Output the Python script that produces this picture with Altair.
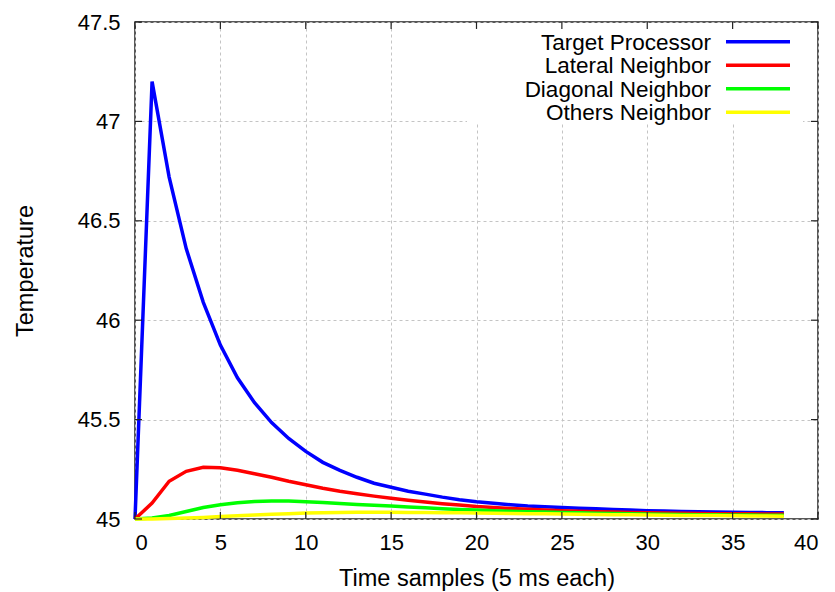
import altair as alt
import pandas as pd

# ---- data ----
t = list(range(39))
target = [45.0, 47.2, 46.72, 46.36, 46.09, 45.875, 45.71, 45.585, 45.485, 45.405,
          45.34, 45.285, 45.245, 45.21, 45.18, 45.16, 45.14, 45.125, 45.11, 45.097,
          45.087, 45.079, 45.072, 45.066, 45.062, 45.058, 45.054, 45.051, 45.048, 45.045,
          45.042, 45.04, 45.038, 45.037, 45.035, 45.034, 45.033, 45.032, 45.031]
lateral = [45.0, 45.08, 45.19, 45.24, 45.26, 45.258, 45.245, 45.228, 45.21, 45.19,
           45.172, 45.155, 45.14, 45.127, 45.115, 45.104, 45.094, 45.085, 45.077, 45.07,
           45.063, 45.058, 45.053, 45.049, 45.045, 45.042, 45.039, 45.037, 45.035, 45.033,
           45.031, 45.03, 45.029, 45.028, 45.027, 45.026, 45.026, 45.025, 45.025]
diagonal = [45.0, 45.005, 45.018, 45.038, 45.058, 45.072, 45.082, 45.088, 45.09, 45.09,
            45.087, 45.083, 45.078, 45.073, 45.069, 45.065, 45.06, 45.056, 45.052, 45.048,
            45.045, 45.042, 45.039, 45.037, 45.035, 45.033, 45.031, 45.029, 45.028, 45.027,
            45.025, 45.024, 45.023, 45.022, 45.021, 45.02, 45.02, 45.019, 45.019]
others = [45.0, 45.0, 45.002, 45.005, 45.008, 45.012, 45.016, 45.02, 45.024, 45.027,
          45.03, 45.032, 45.033, 45.034, 45.034, 45.034, 45.033, 45.033, 45.032, 45.031,
          45.03, 45.029, 45.028, 45.027, 45.026, 45.025, 45.024, 45.023, 45.022, 45.021,
          45.02, 45.019, 45.018, 45.018, 45.017, 45.016, 45.015, 45.015, 45.014]

series_names = ["Target Processor", "Lateral Neighbor", "Diagonal Neighbor", "Others Neighbor"]
series_colors = ["#0000ff", "#ff0000", "#00ff00", "#ffff00"]
x_ticks = [0, 5, 10, 15, 20, 25, 30, 35, 40]
y_ticks = [45, 45.5, 46, 46.5, 47, 47.5]

rows = []
for name, vals in zip(series_names, [target, lateral, diagonal, others]):
    for xi, yi in zip(t, vals):
        rows.append({"t": xi, "temp": yi, "series": name})
df = pd.DataFrame(rows)
leg_df = pd.DataFrame({"series": series_names, "row": list(range(len(series_names)))})
xt_df = pd.DataFrame({"v": x_ticks})
yt_df = pd.DataFrame({"v": y_ticks})

FONT = "Liberation Sans"
xscale = alt.Scale(domain=[0, 40], nice=False, zero=False)
yscale = alt.Scale(domain=[45, 47.5], nice=False, zero=False)
cscale = alt.Scale(domain=series_names, range=series_colors)

# white box behind the key (covers grid lines)
box = alt.Chart(leg_df).mark_rect(fill="white").encode(
    x=alt.value(332), x2=alt.value(668), y=alt.value(1), y2=alt.value(101)
).transform_filter(alt.datum.row == 0)

layers = [box]
for i, name in enumerate(series_names):
    ln = alt.Chart(df).transform_filter(alt.datum.series == name).mark_line(
        strokeWidth=3.5, strokeJoin="miter"
    ).encode(
        x=alt.X("t:Q", scale=xscale,
                axis=alt.Axis(values=x_ticks, title="Time samples (5 ms each)",
                              labelPadding=13, titleY=59, titleBaseline="middle")),
        y=alt.Y("temp:Q", scale=yscale,
                axis=alt.Axis(values=y_ticks, format=".1~f", title="Temperature",
                              labelPadding=15, titleX=-110, titleY=248.5,
                              titleAngle=270, titleAlign="center", titleBaseline="middle")),
        color=alt.Color("series:N", scale=cscale, legend=None),
    )
    layers.append(ln)

tick_style = dict(color="#222", strokeWidth=1.2)
tb = alt.Chart(xt_df).mark_rule(**tick_style).encode(
    x=alt.X("v:Q", scale=xscale), y=alt.datum(45), y2=alt.datum(45.035))
tt = alt.Chart(xt_df).mark_rule(**tick_style).encode(
    x=alt.X("v:Q", scale=xscale), y=alt.datum(47.5), y2=alt.datum(47.465))
tl = alt.Chart(yt_df).mark_rule(**tick_style).encode(
    y=alt.Y("v:Q", scale=yscale), x=alt.datum(0), x2=alt.datum(0.41))
tr = alt.Chart(yt_df).mark_rule(**tick_style).encode(
    y=alt.Y("v:Q", scale=yscale), x=alt.datum(40), x2=alt.datum(39.59))
layers += [tb, tt, tl, tr]

main = alt.layer(*layers)

rowscale = alt.Scale(domain=[0, 3], range=[19.7, 90.3])
leg_text = alt.Chart(leg_df).mark_text(
    align="right", baseline="middle", font=FONT, fontSize=22.5, color="black", dy=1
).encode(
    x=alt.value(576),
    y=alt.Y("row:Q", scale=rowscale, axis=None),
    text="series:N",
)
leg_line = alt.Chart(leg_df).mark_rule(strokeWidth=3.5).encode(
    x=alt.value(591), x2=alt.value(655),
    y=alt.Y("row:Q", scale=rowscale, axis=None),
    color=alt.Color("series:N", scale=cscale, legend=None),
)
legend = alt.layer(leg_text, leg_line)

chart = alt.layer(main, legend).resolve_scale(y="independent").properties(
    width=683, height=497,
    autosize=alt.AutoSizeParams(type="none"),
    padding={"left": 135, "top": 22, "right": 17, "bottom": 73},
).configure_view(
    stroke="#222", strokeWidth=1.5
).configure_axis(
    grid=True, gridColor="#c4c4c4", gridDash=[3, 3], gridWidth=1,
    domain=False, ticks=False,
    labelFont=FONT, labelFontSize=22, labelColor="black",
    titleFont=FONT, titleFontSize=23.5, titleColor="black", titleFontWeight="normal",
)

chart.save("out.html", embed_options={"renderer": "svg", "actions": False})
